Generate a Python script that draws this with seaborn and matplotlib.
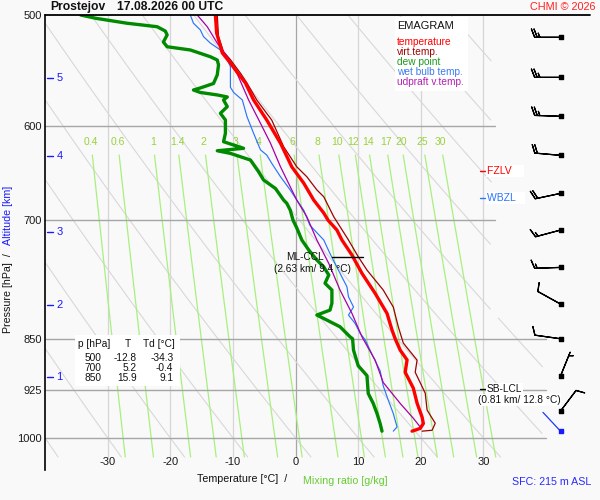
import numpy as np
import pandas as pd
import matplotlib
matplotlib.use("Agg")
import matplotlib.pyplot as plt
from matplotlib.patches import Rectangle
from matplotlib.ticker import NullLocator
import seaborn as sns

# ---------------- data ----------------
temp_p = [500, 515, 532, 541, 549, 559, 574.7, 593.9, 617, 641.3, 658.6, 677.2, 691.7, 700,
          711.3, 723, 741, 763.6, 789, 815.4, 838, 850, 866, 880, 898, 921.7, 944.7, 966.6,
          976.7, 984.5, 989]
temp_T = [-12.8, -12.6, -11.7, -10.4, -9.35, -8.0, -6.7, -4.6, -2.4, -0.6, 1.3, 2.9, 4.5, 5.2,
          6.6, 7.4, 9.0, 10.6, 12.7, 14.6, 15.4, 15.9, 16.7, 17.8, 17.5, 18.8, 19.4, 20.2,
          20.4, 19.9, 18.6]

virt_p = [500, 518, 531, 538, 550, 559, 574.7, 594, 620.5, 641.3, 651.8, 666, 673.5, 696, 723,
          743, 759.5, 784.8, 807, 833.5, 856, 880.3, 898, 929.3, 955.5, 976.2, 987.5, 989]
virt_T = [-12.5, -12.3, -11.5, -10.4, -8.8, -7.75, -6.2, -3.8, -1.9, 0.2, 1.8, 3.4, 4.5, 6.1,
          8.45, 10.0, 11.4, 14.0, 15.6, 16.4, 17.2, 19.4, 19.1, 20.7, 21.0, 22.3, 21.8, 20.2]

dew_p = [500, 502.7, 506.8, 509.7, 513.3, 516.6, 522.6, 526.7, 529.5, 535.4, 538.3, 542.6,
         551.6, 559.4, 563.5, 565.4, 567.7, 570, 571.9, 574.7, 581, 587.4, 593.9, 607.0, 615.4,
         622.1, 624.6, 627.3, 634.2, 646.5, 655.3, 664.5, 677.2, 680.8, 688.4, 700, 708.9, 723,
         734.9, 747.1, 755.6, 765.7, 776.1, 784.8, 801.9, 811, 817.6, 824.4, 833.5, 847.3, 850,
         866, 888.5, 903, 929.7, 945, 960.8, 976.7, 989]
dew_T = [-34.3, -31.9, -26.9, -22.1, -20.8, -20.5, -21.1, -20.5, -16.8, -13.6, -12.5, -12.3,
         -12.5, -13.1, -15.2, -16.3, -15.2, -12.5, -10.9, -11.5, -10.9, -12.0, -11.2, -11.2,
         -11.5, -8.3, -12.5, -10.4, -7.2, -5.9, -5.1, -3.2, -1.9, -1.4, -0.85, -0.4, 0.2, 1.0,
         2.1, 3.4, 4.5, 5.3, 4.7, 5.8, 5.8, 5.5, 3.4, 5.0, 7.1, 8.7, 9.1,
         9.25, 10.0, 11.4, 11.6, 12.4, 13.0, 13.5, 13.8]

wet_p = [500, 506.8, 512.4, 518, 523.6, 529.5, 538.3, 544.2, 562.9, 567.6, 574.7, 590.7, 607,
         623.7, 629, 637.6, 651.8, 666.1, 677.2, 688.4, 705.8, 723, 739.3, 751.3, 763.6, 780.6,
         793.5, 806.9, 817.6, 828.9, 842.4, 851.3, 875.6, 895.9, 918.4, 940, 960.8, 982.2, 989]
wet_T = [-16.8, -16.3, -15.2, -14.7, -13.6, -12.0, -10.9, -10.4, -10.4, -9.9, -8.5, -7.75, -6.7,
         -5.6, -4.6, -3.8, -2.4, -0.85, 0.2, 1.3, 2.3, 4.5, 5.5, 6.3, 7.1, 8.2,
         8.45, 9.25, 8.45, 9.5, 10.3, 11.1, 12.4, 13.5, 14.0, 14.8, 15.6, 16.2, 15.6]

parcel_p = [500, 509.7, 523.6, 535.4, 550.2, 574.7, 597.1, 617, 641.3, 666.1, 677.2, 696, 723,
            751.3, 784.8, 815.4, 847.3, 880.3, 913.2, 945, 968.3, 982.2]
parcel_T = [-15.7, -14.1, -12.5, -10.9, -9.35, -7.5, -5.6, -4.0, -2.4, -0.6, 0.2, 1.8, 3.4,
            5.3, 7.1, 9.0, 10.6, 12.7, 14.0, 16.7, 18.8, 19.9]

wind_p = [518.6, 553.8, 590.3, 629.3, 669.8, 711.3, 756.2, 803, 850, 903.6, 957]
wind_dir = [270, 270, 272, 275, 258, 255, 268, 299, 278, 22, 37]
wind_kt = [25, 25, 25, 20, 20, 15, 15, 10, 10, 5, 10]
sfc_wind_p, sfc_wind_dir = 989, 317

table_p = [500, 700, 850]
table_T = [-12.8, 5.2, 15.9]
table_Td = [-34.3, -0.4, 9.1]

alt_km = [1, 2, 3, 4, 5]
alt_p = [905.6, 804.4, 713.3, 630.0, 554.7]

mix_ratio = [0.4, 0.6, 1, 1.4, 2, 3, 4, 6, 8, 10, 12, 14, 17, 20, 25, 30]
mix_labels = ["0.4", "0.6", "1", "1.4", "2", "3", "4", "6", "8", "10", "12", "14", "17", "20", "25", "30"]
iso_T = [-30, -20, -10, 0, 10, 20, 30]
p_ticks = [500, 600, 700, 850, 925, 1000]
theta_C = list(range(-40, 101, 10))

fzlv_p, wbzl_p = 645.6, 674.7
ml_ccl_p, sb_lcl_p = 744.0, 923.0

# ---------------- style ----------------
sns.set_theme(style="white")
plt.rcParams["font.family"] = ["Liberation Sans", "DejaVu Sans"]
plt.rcParams["axes.unicode_minus"] = False

BG = "#f9f9f9"
C_T, C_TV, C_TD, C_TW, C_PAR = "#ff0000", "#a00000", "#008a00", "#2a74ff", "#a800a8"
C_MIX, C_MIXLBL = "#a8f07e", "#99d23c"
C_ISO, C_GRID, C_ADIA = "#d6d6d6", "#a6a6a6", "#d8d8d8"
C_ALT = "#1a1aff"

W, H = 600, 500
AX_L, AX_R, AX_T, AX_B = 45, 600, 15, 470
T_MIN, T_MAX = -40, 48.6
P_TOP, P_BOT = 500.0, 1054.0

fig = plt.figure(figsize=(6, 5), dpi=100, facecolor=BG)
ax = fig.add_axes([AX_L / W, 1 - AX_B / H, (AX_R - AX_L) / W, (AX_B - AX_T) / H])
ax.set_facecolor(BG)
ax.set_yscale("log")
ax.set_xlim(T_MIN, T_MAX)
ax.set_ylim(P_BOT, P_TOP)


def x2T(x):
    return T_MIN + (x - AX_L) / (AX_R - AX_L) * (T_MAX - T_MIN)


def y2p(y):
    return P_TOP * (P_BOT / P_TOP) ** ((y - AX_T) / (AX_B - AX_T))


def fx(x):
    return x / W


def fy(y):
    return 1 - y / H


P_LOW = y2p(457)

# isotherms
for t in iso_T:
    ax.plot([t, t], [P_TOP, P_LOW], color=(C_GRID if t == 0 else C_ISO), lw=0.9, zorder=1)

# dry adiabats
pp = np.geomspace(P_TOP, P_LOW, 300)
for th in theta_C:
    tt = (th + 273.15) * (pp / 1000.0) ** 0.2857 - 273.15
    tmax = np.where(pp < 820, 31.3, 39.5)
    tt = np.where((tt > tmax) | (tt < T_MIN), np.nan, tt)
    ax.plot(tt, pp, color=C_ADIA, lw=0.8, zorder=1)


def td_from_w(w, p):
    e = w * p / (622.0 + w)
    a = np.log(e / 6.112)
    return 243.5 * a / (17.67 - a)


# mixing ratio lines
pm = np.geomspace(y2p(155), P_LOW, 100)
p_lbl = y2p(142)
for w, lbl in zip(mix_ratio, mix_labels):
    ax.plot(td_from_w(w, pm), pm, color=C_MIX, lw=0.9, zorder=1.2)
    ax.text(td_from_w(w, p_lbl), p_lbl, lbl, color=C_MIXLBL, fontsize=7.5,
            ha="center", va="center", zorder=1.3)

# pressure grid
for p in p_ticks[1:]:
    right = x2T(495) if p < 800 else x2T(546)
    ax.plot([T_MIN, right], [p, p], color=C_GRID, lw=1.0, zorder=1.5)
ax.plot([T_MIN, x2T(590)], [P_TOP, P_TOP], color="black", lw=1.3, zorder=6, clip_on=False)

# sounding curves
df = pd.concat([
    pd.DataFrame({"T": virt_T, "p": virt_p, "s": "virt"}),
    pd.DataFrame({"T": temp_T, "p": temp_p, "s": "temp"}),
    pd.DataFrame({"T": dew_T, "p": dew_p, "s": "dew"}),
    pd.DataFrame({"T": wet_T, "p": wet_p, "s": "wet"}),
    pd.DataFrame({"T": parcel_T, "p": parcel_p, "s": "parcel"}),
])
styles = {"virt": (C_TV, 0.9, 3.2), "temp": (C_T, 2.4, 3.5), "dew": (C_TD, 2.4, 3.4),
          "wet": (C_TW, 0.85, 3.3), "parcel": (C_PAR, 0.9, 3.3)}
for s, (c, lw, z) in styles.items():
    sub = df[df["s"] == s]
    sns.lineplot(data=sub, x="T", y="p", sort=False, estimator=None, color=c, lw=lw,
                 ax=ax, zorder=z, legend=False)

# axes cosmetics
for sp in ["top", "right", "bottom"]:
    ax.spines[sp].set_visible(False)
ax.spines["left"].set_color("black")
ax.spines["left"].set_linewidth(1.2)
ax.set_xticks([])
ax.set_yticks(p_ticks)
ax.set_yticklabels([str(p) for p in p_ticks])
ax.yaxis.set_minor_locator(NullLocator())
ax.tick_params(axis="y", length=0, pad=2.5, labelsize=8, colors="#1a1a1a")
ax.set_xlabel("")
ax.set_ylabel("")

xt_y = (AX_B - 462) / (AX_B - AX_T)
for t in iso_T:
    ax.text(t, xt_y, str(t), transform=ax.get_xaxis_transform(), ha="center", va="center",
            fontsize=8, color="#1a1a1a")

# altitude ticks
for km, p in zip(alt_km, alt_p):
    ax.plot([x2T(47), x2T(53)], [p, p], color=C_ALT, lw=1.0, zorder=5)
    ax.text(x2T(56.5), p, str(km), color=C_ALT, fontsize=8, ha="left", va="center", zorder=5)

# wind barbs
bx = x2T(560.5)
wd = np.deg2rad(wind_dir)
u = -np.array(wind_kt) * np.sin(wd)
v = -np.array(wind_kt) * np.cos(wd)
ax.barbs(np.full(len(wind_p), bx), wind_p, u, v, length=6.1, linewidth=0.9, color="black",
         sizes=dict(spacing=0.1, height=0.32, width=0.25), clip_on=False, zorder=6)
ax.scatter(np.full(len(wind_p), bx), wind_p, marker="s", s=5, color="black", zorder=7,
           clip_on=False)
sd = np.deg2rad(sfc_wind_dir)
ax.annotate("", xy=(bx, sfc_wind_p), xytext=(18.5 * np.sin(sd), 18.5 * np.cos(sd)),
            textcoords="offset points", arrowprops=dict(arrowstyle="-", color="#1a3aff", lw=0.9,
                                                        shrinkA=0, shrinkB=0), zorder=6)
ax.scatter([bx], [sfc_wind_p], marker="s", s=6, color="#1a1aff", zorder=7, clip_on=False)

# level annotations
ax.plot([x2T(331.7), x2T(363.3)], [ml_ccl_p, ml_ccl_p], color="black", lw=1.0, zorder=6)
ax.text(x2T(305), ml_ccl_p, "ML-CCL", fontsize=7.3, ha="center", va="center", color="#111", zorder=6)
ax.text(x2T(312.5), y2p(269.3), "(2.63 km/ 9.4 °C)", fontsize=7.3, ha="center", va="center",
        color="#111", zorder=6)

ax.plot([x2T(480), x2T(485)], [sb_lcl_p, sb_lcl_p], color="black", lw=1.0, zorder=6)
ax.text(x2T(486.5), sb_lcl_p, "SB-LCL", fontsize=7.3, ha="left", va="center", color="#111",
        zorder=6, bbox=dict(facecolor="white", edgecolor="none", pad=0.6))
ax.text(x2T(519.2), y2p(400), "(0.81 km/ 12.8 °C)", fontsize=7.3, ha="center", va="center",
        color="#111", zorder=6, clip_on=False,
        bbox=dict(facecolor="white", edgecolor="none", pad=0.6))

ax.plot([x2T(480), x2T(485)], [fzlv_p, fzlv_p], color="#ff0000", lw=1.0, zorder=6)
ax.text(x2T(487), fzlv_p, "FZLV    ", fontsize=7.5, ha="left", va="center", color="#ff0000",
        zorder=6, bbox=dict(facecolor="white", edgecolor="none", pad=0.8))
ax.plot([x2T(480), x2T(485)], [wbzl_p, wbzl_p], color=C_TW, lw=1.0, zorder=6)
ax.text(x2T(487), wbzl_p, "WBZL   ", fontsize=7.5, ha="left", va="center", color=C_TW,
        zorder=6, bbox=dict(facecolor="white", edgecolor="none", pad=0.8))

# legend box
ax.add_patch(Rectangle((fx(395), fy(91)), (468 - 395) / W, (91 - 17) / H, transform=fig.transFigure,
                       facecolor="white", edgecolor="none", zorder=8, clip_on=False))
ax.text(fx(397), fy(26), "EMAGRAM", transform=fig.transFigure, fontsize=7.9, ha="left",
        va="center", color="#111", zorder=9)
for i, (lbl, c) in enumerate([("temperature", C_T), ("virt.temp.", C_TV), ("dew point", "#1c9a1c"),
                              ("wet bulb temp.", "#3a7af0"), ("udpraft v.temp.", "#b21fb2")]):
    ax.text(fx(397), fy(42 + 10 * i), lbl, transform=fig.transFigure, fontsize=7.3, ha="left",
            va="center", color=c, zorder=9)

# data table
ax.add_patch(Rectangle((fx(75), fy(386)), 105 / W, 51 / H, transform=fig.transFigure,
                       facecolor="white", edgecolor="none", zorder=8, clip_on=False))
ax.text(fx(78), fy(344), "p [hPa]", transform=fig.transFigure, fontsize=7.3, ha="left",
        va="center", zorder=9, color="#111")
ax.text(fx(127.7), fy(344), "T", transform=fig.transFigure, fontsize=7.3, ha="center",
        va="center", zorder=9, color="#111")
ax.text(fx(143), fy(344), "Td [°C]", transform=fig.transFigure, fontsize=7.3, ha="left",
        va="center", zorder=9, color="#111")
for i, (p, t, td) in enumerate(zip(table_p, table_T, table_Td)):
    yy = fy(358.3 + 10 * i)
    ax.text(fx(101.7), yy, str(p), transform=fig.transFigure, fontsize=7.3, ha="right",
            va="center", zorder=9, color="#111")
    ax.text(fx(136.7), yy, f"{t:.1f}", transform=fig.transFigure, fontsize=7.3, ha="right",
            va="center", zorder=9, color="#111")
    ax.text(fx(173.3), yy, f"{td:.1f}", transform=fig.transFigure, fontsize=7.3, ha="right",
            va="center", zorder=9, color="#111")

# titles and axis labels
fig.text(fx(50), fy(7), "Prostejov", fontsize=8.7, fontweight="bold", ha="left", va="center",
         color="#111")
fig.text(fx(117), fy(7), "17.08.2026 00 UTC", fontsize=8.7, fontweight="bold", ha="left",
         va="center", color="#111")
fig.text(fx(596), fy(7), "CHMI © 2026", fontsize=7.8, ha="right", va="center", color="#ff2020")
fig.text(fx(197), fy(479.5), "Temperature [°C]  /", fontsize=7.7, ha="left", va="center",
         color="#111")
fig.text(fx(302.7), fy(480.5), "Mixing ratio [g/kg]", fontsize=7.7, ha="left", va="center",
         color="#66cc33")
fig.text(fx(511.7), fy(482), "SFC: 215 m ASL", fontsize=7.7, ha="left", va="center",
         color="#2a2aff")
fig.text(fx(8), fy(333), "Pressure [hPa]  /", fontsize=7.7, rotation=90, ha="center",
         va="bottom", color="#111")
fig.text(fx(8), fy(245), "Altitude [km]", fontsize=7.7, rotation=90, ha="center",
         va="bottom", color="#1a1aff")

fig.savefig("out.png", dpi=100, facecolor=BG)
